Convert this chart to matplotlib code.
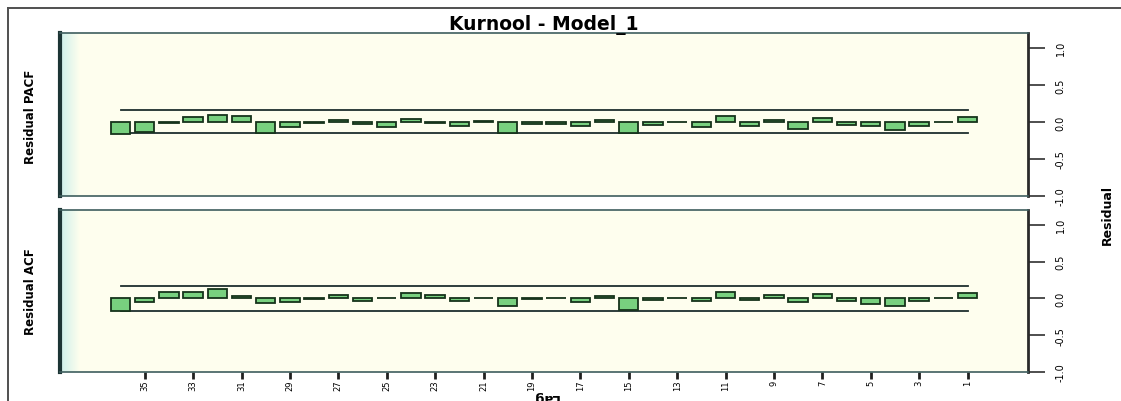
import matplotlib
matplotlib.use("Agg")
import matplotlib.pyplot as plt
from matplotlib.colors import LinearSegmentedColormap
from matplotlib.lines import Line2D
import numpy as np

# residual correlations, lag 1 .. 36
lags = list(range(1, 37))
pacf = [0.06, 0.005, -0.05, -0.11, -0.06, -0.04, 0.05, -0.09, 0.03, -0.05,
        0.08, -0.07, 0.005, -0.04, -0.15, 0.03, -0.06, -0.03, -0.03, -0.15,
        0.01, -0.05, -0.01, 0.04, -0.07, -0.03, 0.03, -0.02, -0.07, -0.15,
        0.08, 0.09, 0.06, -0.01, -0.13, -0.16]
acf = [0.07, 0.005, -0.04, -0.10, -0.07, -0.03, 0.06, -0.05, 0.04, -0.02,
       0.08, -0.04, 0.005, -0.02, -0.16, 0.03, -0.05, 0.005, -0.01, -0.10,
       0.005, -0.03, 0.04, 0.07, 0.005, -0.04, 0.04, -0.005, -0.05, -0.06,
       0.03, 0.13, 0.08, 0.08, -0.05, -0.17]
pacf_ci = 0.155
acf_ci = 0.17

lag_ticks = list(range(1, 37, 2))
value_ticks = [-1.0, -0.5, 0.0, 0.5, 1.0]
value_labels = ["-1.0", "-0.5", "0.0", "0.5", "1.0"]
title = "Kurnool - Model_1"

W, H = 1121, 402
fig = plt.figure(figsize=(W / 100, H / 100), dpi=100)
fig.patch.set_facecolor("white")


def px_axes(x0, y0, x1, y1):
    return fig.add_axes([x0 / W, 1 - y1 / H, (x1 - x0) / W, (y1 - y0) / H])


# outer frame (only top and left edges visible)
fig.add_artist(Line2D([8 / W, 8 / W], [0, 1 - 9 / H], color="#505050", lw=1.4))
fig.add_artist(Line2D([8 / W, 1], [1 - 9 / H, 1 - 9 / H], color="#505050", lw=1.4))

bg = "#FEFEEE"
shade = LinearSegmentedColormap.from_list("shade", ["#CDEFEA", bg])

panels = [
    (px_axes(60, 34, 1028, 197), pacf, pacf_ci, "Residual PACF", 117),
    (px_axes(60, 211, 1028, 373), acf, acf_ci, "Residual ACF", 292),
]

for i, (ax, vals, ci, label, ly) in enumerate(panels):
    ax.set_facecolor(bg)
    ax.imshow(np.linspace(0, 1, 60).reshape(1, -1), cmap=shade, aspect="auto",
              extent=[0, 0.02, 0, 1], transform=ax.transAxes, zorder=0)
    ax.bar(lags, vals, width=0.8, color="#78D07F", edgecolor="#16331B",
           linewidth=1.3, zorder=3)
    ax.plot([36, 1], [ci, ci], color="#1E2E2E", lw=1.3, zorder=2)
    ax.plot([36, 1], [-ci, -ci], color="#1E2E2E", lw=1.3, zorder=2)
    ax.set_xlim(38.5, -1.5)
    ax.set_ylim(-1.0, 1.2)

    ax.yaxis.tick_right()
    ax.set_yticks(value_ticks)
    ax.set_yticklabels(value_labels, rotation=90, va="center", fontsize=7)
    ax.tick_params(axis="y", length=12, width=1.2, pad=8, color="#303030")

    if i == 1:
        ax.set_xticks(lag_ticks)
        ax.set_xticklabels([str(v) for v in lag_ticks], rotation=90, fontsize=6)
        ax.tick_params(axis="x", length=5, width=2, pad=0.5, color="#202020")
    else:
        ax.set_xticks([])

    for side in ["top", "bottom"]:
        ax.spines[side].set_color("#3E5E5E")
        ax.spines[side].set_linewidth(1.2)
    ax.spines["left"].set_color("#1C3434")
    ax.spines["left"].set_linewidth(3)
    ax.spines["right"].set_color("#2A2A2A")
    ax.spines["right"].set_linewidth(2)

    fig.text(30 / W, 1 - ly / H, label, rotation=90, ha="center", va="center",
             fontsize=8.5, fontweight="bold")

fig.text(544 / W, 1 - 25 / H, title, ha="center", va="center",
         fontsize=13.5, fontweight="bold")
fig.text(545 / W, 1 - 397.5 / H, "Lag", rotation=180, ha="center", va="center",
         fontsize=9.5, fontweight="bold")
fig.text(1107 / W, 1 - 215 / H, "Residual", rotation=90, ha="center",
         va="center", fontsize=9, fontweight="bold")

fig.savefig("out.png", dpi=100)
